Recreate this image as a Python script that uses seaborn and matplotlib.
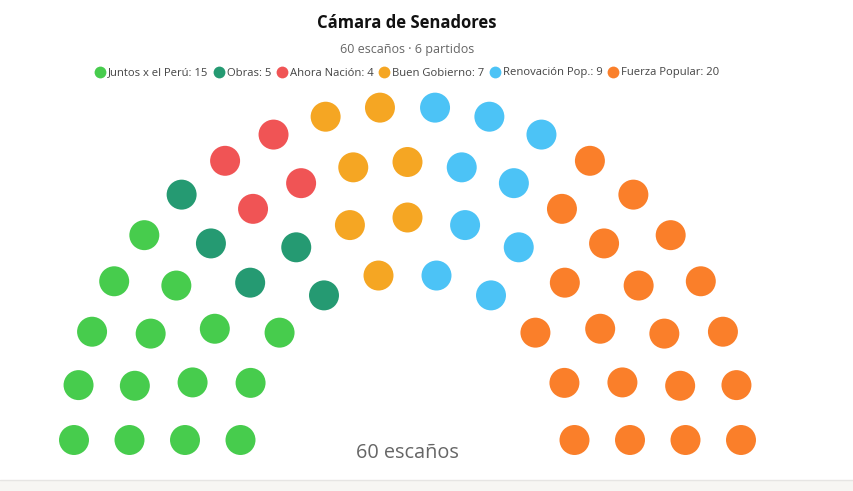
import numpy as np
import pandas as pd
import matplotlib
matplotlib.use("Agg")
import matplotlib.pyplot as plt
from matplotlib.lines import Line2D
from matplotlib.patches import Rectangle
import seaborn as sns

# --- Data ---
parties = ["Juntos x el Perú", "Obras", "Ahora Nación", "Buen Gobierno", "Renovación Pop.", "Fuerza Popular"]
seats = [15, 5, 4, 7, 9, 20]
colors = ["#47cc4d", "#259a72", "#f05455", "#f5a623", "#4cc3f6", "#fa7f2a"]

# seats per ring (outer -> inner) and how each party is spread over the rings
ring_sizes = [20, 17, 13, 10]
ring_party_counts = [
    [5, 1, 2, 2, 3, 7],
    [4, 1, 2, 2, 2, 6],
    [3, 2, 0, 2, 2, 4],
    [3, 1, 0, 1, 2, 3],
]
total_seats = sum(seats)

# --- Layout (pixels) ---
cx, cy = 407.5, 440
radii = [333.5, 278, 222.5, 167]

rows = []
for size, r, counts in zip(ring_sizes, radii, ring_party_counts):
    angles = np.linspace(np.pi, 0, size)
    labels = [p for p, c in zip(parties, counts) for _ in range(c)]
    for a, lab in zip(angles, labels):
        rows.append({"x": cx + r * np.cos(a), "y": cy - r * np.sin(a), "party": lab})
df = pd.DataFrame(rows)

sns.set_style("white")
plt.rcParams["font.family"] = ["Open Sans", "DejaVu Sans"]

fig = plt.figure(figsize=(8.54, 4.91), dpi=100)
ax = fig.add_axes([0, 0, 1, 1])
ax.set_xlim(0, 854)
ax.set_ylim(491, 0)
ax.axis("off")

# footer strip
ax.add_patch(Rectangle((0, 0), 1, 11 / 491, transform=ax.transAxes,
                       facecolor="#f7f6f3", edgecolor="none", zorder=0))
ax.plot([0, 1], [11 / 491, 11 / 491], transform=ax.transAxes, color="#e6e5e3", lw=1, zorder=1)

sns.scatterplot(data=df, x="x", y="y", hue="party", hue_order=parties,
                palette=dict(zip(parties, colors)), s=466, linewidth=0,
                legend=False, ax=ax, zorder=3)

# --- Text ---
fig.text(0.4766, 1 - 23 / 491, "Cámara de Senadores", ha="center", va="center",
         fontsize=12, fontweight="bold", color="#111111")
fig.text(0.4766, 1 - 49 / 491, f"{total_seats} escaños · {len(parties)} partidos",
         ha="center", va="center", fontsize=9.0, color="#666666")
ax.text(407.5, 453, f"{total_seats} escaños", ha="center", va="center",
        fontsize=14.3, color="#666666")

handles = [Line2D([0], [0], marker="o", linestyle="none", markersize=8.5,
                  markerfacecolor=c, markeredgewidth=0) for c in colors]
labels = [f"{p}: {n}" for p, n in zip(parties, seats)]
fig.legend(handles, labels, loc="center", bbox_to_anchor=(0.4766, 1 - 73 / 491),
           ncol=len(parties), frameon=False, fontsize=8.1, handletextpad=0.2,
           columnspacing=0.45, handlelength=1.0, labelcolor="#444444",
           borderaxespad=0, borderpad=0)

fig.savefig("out.png", dpi=100)
